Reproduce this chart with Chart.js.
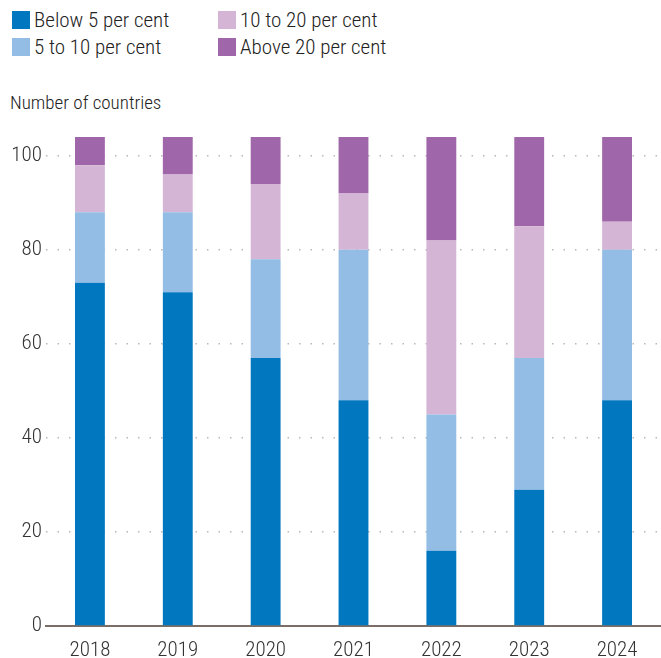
<!DOCTYPE html>
<html>
<head>
<meta charset="utf-8">
<script src="https://cdn.jsdelivr.net/npm/chart.js@4"></script>
<style>
  body { margin: 0; background: #fff; font-family: 'Roboto Condensed', Roboto, sans-serif; font-weight: 300; color: #222; }
  #wrap { position: relative; width: 661px; height: 658px; }
  #legend { position: absolute; left: 12px; top: 8px; display: grid; grid-template-columns: 206px 220px; row-gap: 3px; }
  .item { display: flex; align-items: center; font-size: 21px; height: 24px; }
  .sw { width: 18px; height: 18px; margin-right: 4px; }
  #ytitle { position: absolute; left: 10px; top: 91px; font-size: 19px; color: #222; }
  canvas { position: absolute; left: 0; top: 0; }
</style>
</head>
<body>
<div id="wrap">
  <div id="legend"></div>
  <div id="ytitle">Number of countries</div>
  <canvas id="chart" width="661" height="658"></canvas>
</div>
<script>
    const years = ['2018', '2019', '2020', '2021', '2022', '2023', '2024'];
    const below5 = [73, 71, 57, 48, 16, 29, 48];
    const from5to10 = [15, 17, 21, 32, 29, 28, 32];
    const from10to20 = [10, 8, 16, 12, 37, 28, 6];
    const above20 = [6, 8, 10, 12, 22, 19, 18];
    const yTicks = [0, 20, 40, 60, 80, 100];

    const series = [
        { label: 'Below 5 per cent', data: below5, color: '#0077bf' },
        { label: '5 to 10 per cent', data: from5to10, color: '#94bde5' },
        { label: '10 to 20 per cent', data: from10to20, color: '#d4b5d5' },
        { label: 'Above 20 per cent', data: above20, color: '#a066aa' }
    ];

    // legend laid out column by column like the original
    const legend = document.getElementById('legend');
    [0, 2, 1, 3].forEach(function(i) {
        const s = series[i];
        const el = document.createElement('div');
        el.className = 'item';
        el.innerHTML = '<span class="sw" style="background:' + s.color + '"></span>' + s.label;
        legend.appendChild(el);
    });

    const tickFont = { family: "'Roboto Condensed', Roboto", size: 21, weight: 300 };

    const ctx = document.getElementById('chart').getContext('2d');
    const chart = new Chart(ctx, {
        type: 'bar',
        data: {
            labels: years,
            datasets: series.map(function(s) {
                return { label: s.label, data: s.data, backgroundColor: s.color, borderWidth: 0 };
            })
        },
        options: {
            responsive: false,
            animation: false,
            barPercentage: 0.34,
            categoryPercentage: 1,
            layout: { padding: { top: 137, right: 0, left: 0, bottom: 0 } },
            plugins: { legend: { display: false }, tooltip: { enabled: false } },
            scales: {
                x: {
                    stacked: true,
                    afterFit: function(axis) { axis.height = 32; },
                    grid: { display: false },
                    border: { display: true, color: '#7a6e66', width: 2 },
                    ticks: { color: '#333', font: tickFont, padding: 4 }
                },
                y: {
                    stacked: true,
                    min: 0,
                    max: 104,
                    afterBuildTicks: function(axis) {
                        axis.ticks = yTicks.map(function(v) { return { value: v }; });
                    },
                    afterFit: function(axis) { axis.width = 46; },
                    grid: {
                        drawTicks: false,
                        color: function(c) { return c.tick.value === 0 ? 'rgba(0,0,0,0)' : '#b8b8b8'; },
                        lineWidth: 1.5
                    },
                    border: { display: false, dash: [1.5, 10] },
                    ticks: { color: '#333', font: tickFont, padding: 4 }
                }
            }
        }
    });
</script>
</body>
</html>
